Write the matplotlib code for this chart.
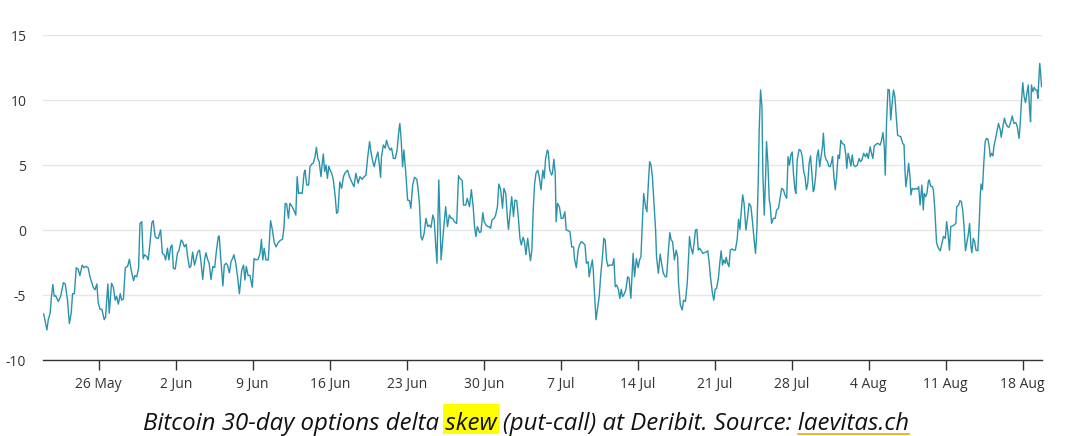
import matplotlib
matplotlib.use("Agg")
import matplotlib.pyplot as plt
import pandas as pd
from matplotlib.patches import Rectangle
from matplotlib.lines import Line2D

START = "2021-05-21 00:00"

# hours since START
hours = [0, 7, 10, 14, 17, 20, 23, 26, 32, 37, 43, 47, 52, 56, 60, 63, 67, 71, 75, 79, 84, 88, 92, 97, 101, 108, 112, 116, 119, 123, 127, 132, 135, 140, 143, 148, 152, 156, 159, 163, 167, 170, 174, 178, 183, 187, 191, 196, 199, 203, 207,
         210, 214, 217, 220, 225, 228, 232, 236, 239, 243, 247, 250, 255, 259, 263, 266, 270, 273, 277, 280, 283, 287, 292, 295, 300, 303, 307, 311, 314, 318, 321, 325, 329, 332, 336, 340, 343, 347, 351, 354, 358, 361, 365, 369, 373, 377, 381, 383, 386, 391, 394, 398, 401, 405, 409, 412, 415, 419, 423, 427,
         432, 436, 439, 442, 446, 450, 455, 459, 463, 468, 472, 475, 478, 481, 485, 490, 495, 499, 503, 507, 511, 516, 521, 524, 527, 530, 534, 537, 542, 546, 550, 553, 556, 560, 564, 568, 570, 574, 578, 581, 585, 588, 592, 595, 598, 601, 605, 607, 610, 613, 616, 619, 622, 625, 628, 632, 636, 639, 642, 646,
         650, 654, 657, 663, 667, 672, 677, 681, 686, 690, 695, 699, 703, 707, 711, 714, 718, 721, 725, 729, 732, 735, 737, 741, 745, 748, 752, 756, 759, 763, 767, 771, 775, 777, 780, 783, 786, 790, 794, 798, 801, 805, 809, 814, 817, 820, 823, 826, 830, 834, 838, 841, 845, 849, 852, 855, 858, 862, 867,
         873, 877, 881, 885, 889, 892, 896, 901, 905, 908, 913, 916, 921, 924, 929, 933, 937, 940, 943, 946, 951, 954, 958, 961, 965, 969, 972, 975, 978, 983, 986, 990, 993, 997, 1001, 1004, 1008, 1012, 1014, 1017, 1021, 1025, 1028, 1032, 1036, 1039, 1042, 1046, 1049, 1052, 1056, 1059, 1062, 1065, 1068, 1071, 1074, 1078, 1081, 1085, 1089,
         1092, 1095, 1099, 1101, 1104, 1108, 1110, 1113, 1116, 1118, 1121, 1125, 1129, 1133, 1137, 1140, 1144, 1148, 1152, 1156, 1158, 1162, 1166, 1169, 1173, 1177, 1181, 1184, 1188, 1190, 1193, 1197, 1199, 1202, 1205, 1208, 1212, 1215, 1219, 1222, 1225, 1228, 1231, 1234, 1238, 1241, 1244, 1247, 1250, 1254, 1257, 1260, 1263, 1267, 1270, 1274, 1277, 1281, 1284, 1286, 1289, 1293, 1297, 1300, 1303, 1306, 1309,
         1313, 1316, 1320, 1322, 1325, 1328, 1331, 1335, 1337, 1341, 1345, 1348, 1352, 1356, 1359, 1363, 1366, 1369, 1372, 1376, 1380, 1383, 1385, 1389, 1393, 1396, 1400, 1404, 1407, 1409, 1412, 1416, 1419, 1422, 1425, 1428, 1431, 1434, 1438, 1441, 1445, 1449, 1452, 1455, 1459, 1462, 1465, 1468, 1472, 1475, 1478, 1481, 1484, 1487, 1489, 1492, 1495, 1498, 1502, 1505, 1509, 1513, 1516, 1519, 1522, 1525,
         1528, 1532, 1535, 1539, 1543, 1546, 1550, 1553, 1556, 1559, 1561, 1564, 1567, 1569, 1572, 1575, 1577, 1580, 1583, 1585, 1588, 1592, 1596, 1599, 1603, 1607, 1610, 1614, 1617, 1621, 1624, 1627, 1630, 1633, 1636, 1639, 1641, 1644, 1648, 1652, 1655, 1658, 1661, 1664, 1667, 1670, 1673, 1676, 1679, 1681, 1684, 1687, 1690, 1693, 1696, 1699, 1701, 1704, 1707, 1710, 1713, 1716, 1719, 1721, 1724, 1727, 1730, 1733, 1736, 1739, 1742, 1745,
         1747, 1750, 1752, 1755, 1758, 1761, 1764, 1767, 1771, 1775, 1779, 1782, 1785, 1789, 1793, 1796, 1799, 1803, 1806, 1809, 1812, 1816, 1820, 1825, 1828, 1831, 1834, 1836, 1839, 1842, 1845, 1848, 1851, 1854, 1857, 1860, 1863, 1866, 1870, 1874, 1877, 1879, 1881, 1884, 1887, 1890, 1892, 1895, 1899, 1903, 1906, 1909, 1912, 1916, 1919, 1921, 1924, 1927, 1930, 1932, 1935, 1939, 1941, 1944, 1946, 1948, 1952, 1956, 1959, 1963,
         1967, 1970, 1973, 1976, 1979, 1982, 1986, 1990, 1992, 1996, 1999, 2002, 2005, 2008, 2011, 2014, 2017, 2020, 2023, 2025, 2028, 2031, 2034, 2038, 2041, 2043, 2045, 2048, 2051, 2054, 2057, 2060, 2063, 2065, 2068, 2071, 2073, 2076, 2079, 2083, 2087, 2089, 2092, 2096, 2099, 2103, 2106, 2110, 2113, 2117, 2121, 2124, 2128, 2130, 2133, 2136, 2139, 2142, 2145, 2148, 2151, 2153, 2155, 2158, 2161, 2164, 2167, 2169, 2172, 2173, 2175, 2177]

skew = [-6.46, -7.69, -6.9, -6.4, -5.1, -4.2, -5.1, -5.05, -5.5, -5.1, -4.05, -4.15, -5.4, -7.2, -6.4, -4.9, -4.9, -2.9, -3.0, -3.5, -2.7, -2.9, -2.8, -2.9, -3.6, -4.4, -4.6, -4.15, -5.6, -6.1, -6.1, -6.9, -6.7, -4.15, -6.4, -4.1, -4.4, -5.4, -5.1, -5.7, -4.9, -5.4, -5.3, -2.9, -2.8, -2.25, -3.1, -3.9, -3.5, -3.6, -2.95,
        0.5, 0.64, -2.2, -1.9, -2.05, -2.3, -1.0, 0.56, 0.72, -0.5, -0.64, -0.64, 0.0, -1.8, -1.9, -2.3, -1.4, -2.3, -1.3, -1.15, -2.95, -3.0, -1.75, -1.6, -0.77, -0.9, -1.3, -1.1, -2.05, -2.9, -2.8, -1.7, -2.7, -2.3, -1.7, -1.55, -2.4, -3.8, -2.3, -1.75, -2.3, -2.56, -3.8, -2.8, -2.9, -1.55, -0.5, -0.46, -2.05, -4.3, -2.7, -2.56, -2.7, -3.3, -2.4, -2.2, -1.9, -2.56, -3.6, -4.9,
        -3.1, -2.7, -3.85, -2.8, -3.5, -3.5, -4.4, -2.2, -2.3, -2.25, -1.8, -0.72, -2.3, -1.4, -2.3, -2.3, 0.72, 0.0, -0.97, -1.3, -1.0, -0.8, -0.72, 0.13, 2.05, 2.0, 0.9, 2.05, 1.8, 1.5, 1.15, 4.1, 2.8, 2.87, 2.8, 4.36, 4.6, 3.46, 3.46, 4.87, 5.08, 5.13, 5.64, 6.36, 5.5, 5.26, 4.1, 4.87, 5.85, 4.5, 5.0, 3.97, 4.9, 4.6, 4.4, 3.85, 2.56, 1.28, 1.4, 3.7,
        3.2, 4.1, 4.36, 4.6, 4.1, 3.7, 3.33, 4.36, 3.6, 4.1, 3.9, 4.1, 4.2, 5.64, 6.8, 6.0, 5.26, 4.87, 5.5, 6.0, 5.13, 4.05, 5.64, 6.54, 6.3, 6.9, 6.4, 6.15, 6.3, 5.5, 5.5, 6.15, 7.7, 8.2, 6.9, 4.87, 6.15, 4.36, 2.3, 2.26, 1.67, 3.46, 4.05, 3.9, 3.1, 1.92, -0.5, -0.77, -0.26, 0.9, 0.26, 0.38, 0.2, 1.15, 0.77, -1.0, -2.56, 3.85, -2.3,
        0.26, 1.8, 0.26, 1.15, 0.9, 0.9, 0.64, 0.5, 4.18, 3.97, 3.8, 1.92, 1.92, 2.44, 1.8, 3.1, 1.8, 0.26, -0.5, 0.26, -0.2, -0.13, 1.33, 0.64, 0.38, 0.26, 0.26, 0.13, 0.77, 0.9, 1.15, 1.8, 3.54, 3.1, 1.67, 3.2, 2.82, 0.77, 0.05, 1.15, 2.56, 1.03, 2.3, 2.26, 0.77, -0.64, -1.15, -0.56, -0.9, -1.9, -0.64, -1.55, -2.36, -1.55, 1.54, 3.54, 4.36, 4.6, 4.1, 3.1, 4.6,
        3.97, 5.5, 6.15, 6.0, 4.6, 4.23, 4.36, 5.44, 4.36, 0.64, 2.05, 1.8, 0.9, 0.9, 1.4, 0.0, -0.05, -0.13, -1.3, -1.3, -2.2, -2.9, -1.55, -1.15, -0.9, -1.0, -1.15, -2.56, -2.44, -3.6, -3.0, -2.3, -3.1, -5.1, -6.9, -6.15, -5.1, -3.6, -2.05, -0.64, -0.77, -2.3, -2.8, -2.7, -2.7, -2.7, -2.2, -4.36, -4.23, -4.6, -5.26, -4.56, -5.13, -4.9, -4.6, -3.6, -3.7, -5.26, -3.1, -1.8, -3.6, -2.2, -2.9, -2.3, -2.05, 0.5, 2.8,
        1.8, 1.4, 4.1, 5.26, 5.0, 4.1, 2.3, 0.0, -2.05, -3.33, -1.85, -2.56, -3.33, -3.6, -3.6, -1.55, -0.2, -0.77, -0.9, -2.3, -1.55, -2.05, -4.1, -5.77, -6.15, -5.4, -5.5, -4.1, -2.05, -0.5, -1.3, -1.85, -1.0, 0.0, 0.05, -1.55, -1.4, -1.55, -1.8, -1.75, -1.7, -1.6, -2.56, -3.7, -4.87, -5.4, -4.56, -4.5, -3.7, -2.56, -1.6, -2.7, -2.3, -2.56, -2.1, -2.56, -2.82, -1.55, -1.45, -1.55, -1.55, -0.72, 0.82, 0.05, 1.54, 2.7,
        2.05, 0.0, 0.77, 2.05, 1.8, 0.77, -0.77, -1.8, 0.0, 3.85, 7.7, 10.77, 9.5, 4.36, 1.15, 4.1, 6.8, 5.13, 2.3, 1.92, 0.5, 0.9, 0.9, 1.54, 1.67, 2.56, 3.2, 3.1, 2.7, 2.44, 5.64, 5.0, 5.77, 6.0, 4.23, 3.1, 2.82, 5.4, 6.2, 6.1, 5.64, 4.5, 4.1, 3.1, 3.6, 5.13, 5.7, 4.36, 2.95, 3.13, 4.1, 5.64, 6.15, 4.87, 5.64, 6.4, 7.44, 5.77, 5.4, 5.26, 4.9, 4.87, 5.26, 5.64, 4.1, 3.1, 4.1, 5.77, 5.5, 6.9, 6.67, 6.6,
        6.54, 5.77, 4.74, 5.9, 5.5, 4.92, 5.77, 5.0, 4.87, 5.0, 5.5, 5.26, 5.38, 5.9, 5.64, 5.9, 5.5, 6.4, 5.9, 5.5, 6.46, 6.6, 6.67, 6.54, 6.9, 7.5, 6.4, 4.23, 8.46, 10.82, 10.77, 8.46, 9.74, 10.77, 10.26, 8.7, 7.3, 7.23, 7.18, 6.67, 6.54, 4.6, 3.33, 4.1, 5.13, 4.1, 2.7, 3.2, 3.13, 3.2, 3.13, 3.33, 1.92, 3.46, 1.54, 2.82, 2.56, 2.82, 3.72, 3.85, 3.38, 3.33, 3.1, 1.67, 0.26, -1.0, -1.4, -1.6, -1.15, -0.5,
        -0.64, 0.64, -0.26, -1.55, 0.26, 0.3, 0.38, 0.5, 1.8, 1.92, 2.26, 2.18, 1.54, 0.26, -1.6, -1.0, -0.38, 0.5, -1.28, -1.74, -0.64, -0.9, -1.55, -1.6, 0.5, 2.44, 3.54, 3.1, 5.13, 6.8, 7.05, 6.97, 6.4, 5.64, 5.9, 5.7, 6.4, 6.9, 7.44, 8.2, 7.7, 7.13, 7.8, 8.6, 8.2, 7.95, 7.9, 8.33, 8.77, 8.2, 8.26, 7.95, 7.05, 7.95, 9.74, 11.33, 10.26, 9.8, 10.5, 11.15, 9.28, 8.33, 11.15, 10.64, 10.97, 10.77, 10.77, 10.13, 12.05, 12.82, 12.05, 11.03]

tick_dates = ["2021-05-26", "2021-06-02", "2021-06-09", "2021-06-16", "2021-06-23", "2021-06-30",
              "2021-07-07", "2021-07-14", "2021-07-21", "2021-07-28", "2021-08-04", "2021-08-11", "2021-08-18"]
tick_labels = ["26 May", "2 Jun", "9 Jun", "16 Jun", "23 Jun", "30 Jun", "7 Jul", "14 Jul",
               "21 Jul", "28 Jul", "4 Aug", "11 Aug", "18 Aug"]
y_ticks = [-10, -5, 0, 5, 10, 15]
caption_parts = ["Bitcoin 30-day options delta ", "skew", " (put-call) at Deribit. Source: ", "laevitas.ch"]

FONT = ["Open Sans", "DejaVu Sans"]
LINE = "#2a93aa"
W, H = 1080, 436

start = pd.Timestamp(START)
times = start + pd.to_timedelta(hours, unit="h")

fig = plt.figure(figsize=(W / 100, H / 100), dpi=100)
ax = fig.add_axes([43 / W, 1 - 360 / H, (1042 - 43) / W, (360 - 35) / H])
ax.plot(times, skew, color=LINE, lw=1.0, solid_joinstyle="round")
ax.set_ylim(-10, 15)
ax.set_xlim(start - pd.Timedelta(hours=1.5), start + pd.Timedelta(hours=2178))
ax.set_yticks(y_ticks)
ax.set_yticklabels([str(v) for v in y_ticks], family=FONT, fontsize=10, color="#333333")
ax.set_xticks(pd.to_datetime(tick_dates))
ax.set_xticklabels(tick_labels, family=FONT, fontsize=10, color="#333333")
ax.grid(axis="y", color="#e6e6e6", lw=1)
ax.set_axisbelow(True)
for s in ["top", "right", "left"]:
    ax.spines[s].set_visible(False)
ax.spines["bottom"].set_color("#333333")
ax.spines["bottom"].set_linewidth(1)
ax.tick_params(axis="y", length=0, pad=12)
ax.tick_params(axis="x", length=7.2, width=1, color="#333333", pad=5)

# caption
renderer = fig.canvas.get_renderer()
def wpx(s, size):
    tt = fig.text(0, 0, s, fontsize=size, fontstyle="italic", family=FONT)
    w = tt.get_window_extent(renderer).width
    tt.remove()
    return w

full = "".join(caption_parts)
size = 15.0
size = size * 766 / wpx(full, size)
total = wpx(full, size)
cx = 526
x0 = cx - total / 2
base_y = 430
fig.text(x0 / W, (H - base_y) / H, full, fontsize=size, fontstyle="italic", family=FONT,
         color="#111111", va="baseline", ha="left", zorder=3)

p1 = caption_parts[0] + caption_parts[1]
sk_end = x0 + wpx(p1, size)
sk_start = sk_end - wpx(caption_parts[1], size)
fig.patches.append(Rectangle(((sk_start - 2) / W, (H - 434) / H), (sk_end - sk_start + 4) / W, 30 / H,
                             transform=fig.transFigure, facecolor="#ffff00", edgecolor="none", zorder=1))
lv_start = x0 + total - wpx(caption_parts[3], size)
fig.lines.append(Line2D([lv_start / W, (x0 + total) / W], [(H - 434) / H] * 2,
                        transform=fig.transFigure, color="#f0a500", lw=1.2))

fig.savefig("out.png", dpi=100)
